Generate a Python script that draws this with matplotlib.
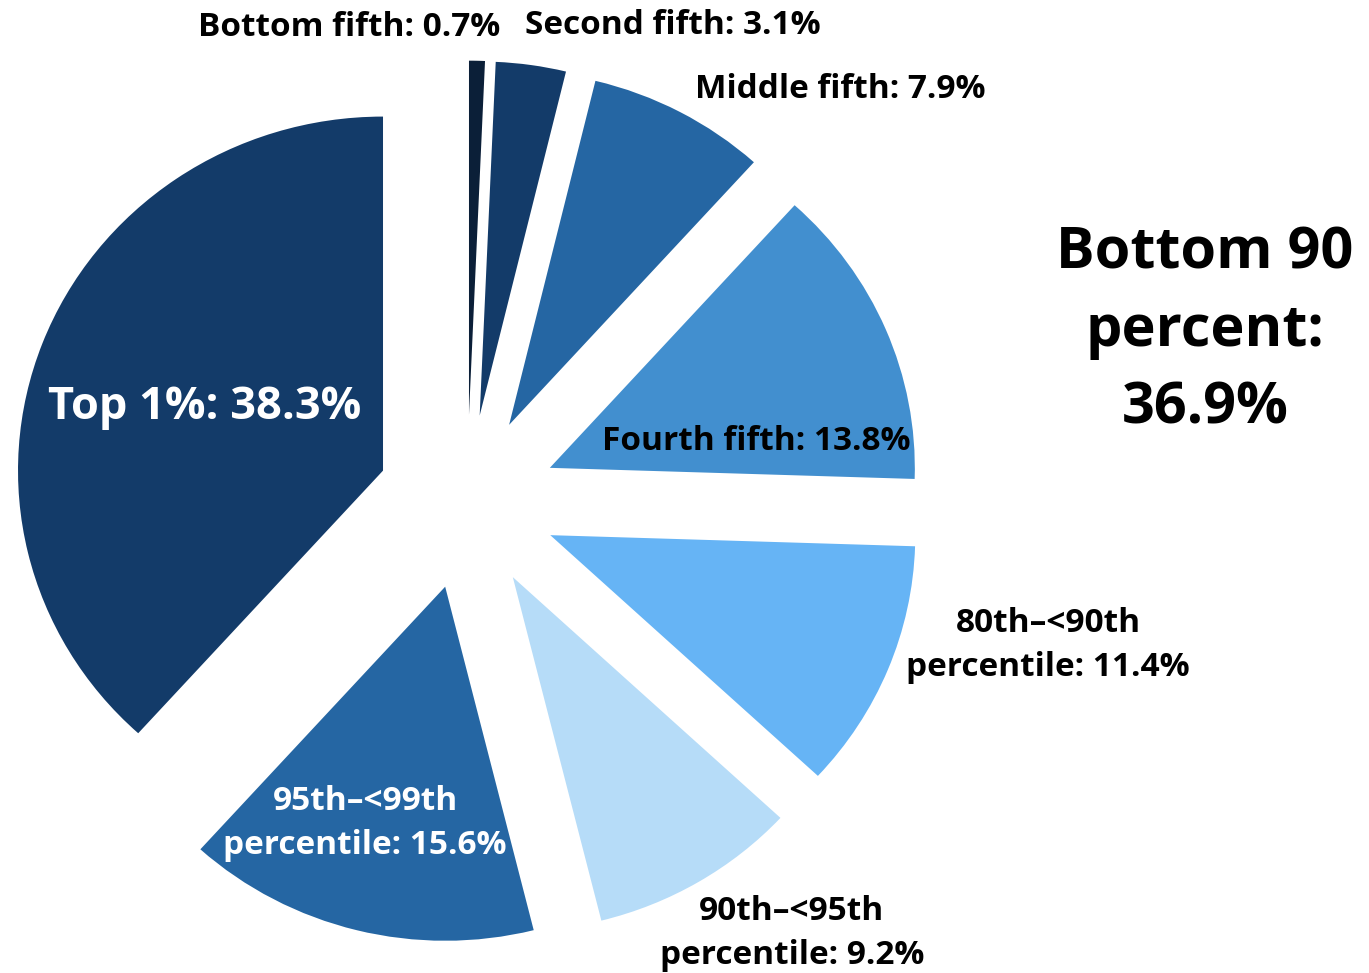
import matplotlib
matplotlib.use("agg")
import matplotlib.pyplot as plt

# share of total, clockwise from 12 o'clock
groups = ["Bottom fifth", "Second fifth", "Middle fifth", "Fourth fifth",
          "80th\u2013<90th\npercentile", "90th\u2013<95th\npercentile",
          "95th\u2013<99th\npercentile", "Top 1%"]
shares = [0.7, 3.1, 7.9, 13.8, 11.4, 9.2, 15.6, 38.3]
colors = ["#0b1f38", "#133b69", "#2566a3", "#428fcf",
          "#66b4f5", "#b6dcf8", "#2566a3", "#133b69"]

W, H = 1369, 973
SY = 0.97  # pie is drawn slightly squashed vertically
plt.rcParams['font.family'] = ['Open Sans', 'DejaVu Sans']


def ypos(y):
    # pixel row from the top -> data y
    return (H - y) / SY


fig = plt.figure(figsize=(W / 100, H / 100), dpi=100)
ax = fig.add_axes([0, 0, 1, 1])

ax.pie(shares, colors=colors, startangle=90, counterclock=False,
       center=(467, ypos(502)), radius=365, explode=[90] * len(shares),
       wedgeprops=dict(linewidth=0), frame=True)
ax.set_xlim(0, W)
ax.set_ylim(0, H / SY)
ax.set_aspect("auto")
ax.axis("off")


def label(i):
    return "%s: %s%%" % (groups[i], shares[i])


# (x, y from top, colour, size) for each slice label
spots = [(349, 27, "black", 24), (673, 26, "black", 24),
         (840, 90, "black", 24), (756, 442, "black", 24),
         (1048, 646, "black", 24), (792, 934, "black", 24),
         (365, 824, "white", 24), (205, 408, "white", 32.5)]
for i, (x, y, c, s) in enumerate(spots):
    ax.text(x, ypos(y), label(i), color=c, fontsize=s, fontweight="bold",
            ha="center", va="center", linespacing=1.44)

bottom90 = round(sum(shares[:5]), 1)
ax.text(1205, ypos(331), "Bottom 90\npercent:\n%s%%" % bottom90,
        fontsize=41.5, fontweight="bold", ha="center", va="center",
        linespacing=1.44)

fig.savefig("out.png", dpi=100)
plt.close(fig)
